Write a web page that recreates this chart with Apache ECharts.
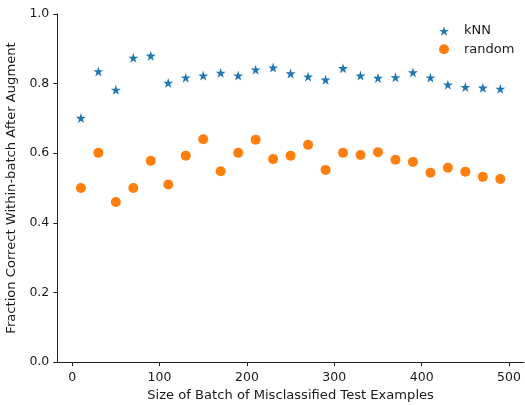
<!DOCTYPE html>
<html>
<head>
<meta charset="utf-8">
<script src="https://cdn.jsdelivr.net/npm/echarts@6/dist/echarts.min.js"></script>
<style>html,body{margin:0;padding:0;background:#fff}#c{width:525px;height:405px}</style>
</head>
<body>
<div id="c"></div>
<script>
const batchSizes = [10,30,50,70,90,110,130,150,170,190,210,230,250,270,290,310,330,350,370,390,410,430,450,470,490];
const knnValues = [0.701,0.835,0.782,0.874,0.880,0.802,0.817,0.823,0.831,0.823,0.840,0.846,0.829,0.820,0.811,0.844,0.823,0.816,0.818,0.832,0.817,0.797,0.790,0.788,0.785];
const randomValues = [0.500,0.601,0.460,0.500,0.578,0.510,0.593,0.640,0.548,0.601,0.639,0.583,0.593,0.624,0.552,0.601,0.595,0.603,0.581,0.575,0.544,0.558,0.547,0.532,0.526];
const xTicks = [0,100,200,300,400,500];
const yTicks = [0,0.2,0.4,0.6,0.8,1.0];

const star = 'path://M100,0L122.45,69.1L195.1,69.1L136.33,111.8L158.8,180.9L100,138.2L41.2,180.9L63.67,111.8L4.9,69.1L77.55,69.1Z';
const font = 'DejaVu Sans';
const ink = '#1a1a1a';
const fs = 12.5;
const fsName = 13.1;

const chart = echarts.init(document.getElementById('c'), null, {renderer: 'canvas'});
chart.setOption({
  animation: false,
  textStyle: {fontFamily: font},
  grid: {left: 57.3, right: 1.1, top: 14, bottom: 43, containLabel: false, outerBoundsMode: 'none'},
  legend: {
    orient: 'vertical', left: 434, top: 18.5,
    itemWidth: 10, itemHeight: 10, itemGap: 3.3,
    textStyle: {fontFamily: font, fontSize: 13, lineHeight: 15, color: ink, padding: [0,0,0,10]},
    data: [{name: 'kNN', icon: star}, {name: 'random', icon: 'circle'}]
  },
  xAxis: {
    type: 'value', min: -17, max: 517,
    name: 'Size of Batch of Misclassified Test Examples',
    nameLocation: 'middle', nameGap: 26,
    nameTextStyle: {fontFamily: font, fontSize: fsName, color: ink},
    axisLine: {show: true, onZero: false, lineStyle: {color: '#222', width: 1}},
    axisTick: {show: true, length: 4, inside: false, customValues: xTicks, lineStyle: {color: '#222'}},
    axisLabel: {customValues: xTicks, fontFamily: font, fontSize: fs, color: ink, margin: 9},
    splitLine: {show: false}
  },
  yAxis: {
    type: 'value', min: 0, max: 1, interval: 0.2,
    name: 'Fraction Correct Within-batch After Augment',
    nameLocation: 'middle', nameGap: 35, nameRotate: 90,
    nameTextStyle: {fontFamily: font, fontSize: fsName, color: ink},
    axisLine: {show: true, onZero: false, lineStyle: {color: '#222', width: 1}},
    axisTick: {show: true, length: 4, inside: false, lineStyle: {color: '#222'}},
    axisLabel: {fontFamily: font, fontSize: fs, color: ink, margin: 8,
      formatter: v => v.toFixed(1)},
    splitLine: {show: false}
  },
  series: [
    {name: 'kNN', type: 'scatter', symbol: star, symbolSize: 10,
     itemStyle: {color: '#1f77b4', opacity: 1},
     data: batchSizes.map((x,i) => [x, knnValues[i]])},
    {name: 'random', type: 'scatter', symbol: 'circle', symbolSize: 10,
     itemStyle: {color: '#ff7f0e', opacity: 1},
     data: batchSizes.map((x,i) => [x, randomValues[i]])}
  ]
});
</script>
</body>
</html>
